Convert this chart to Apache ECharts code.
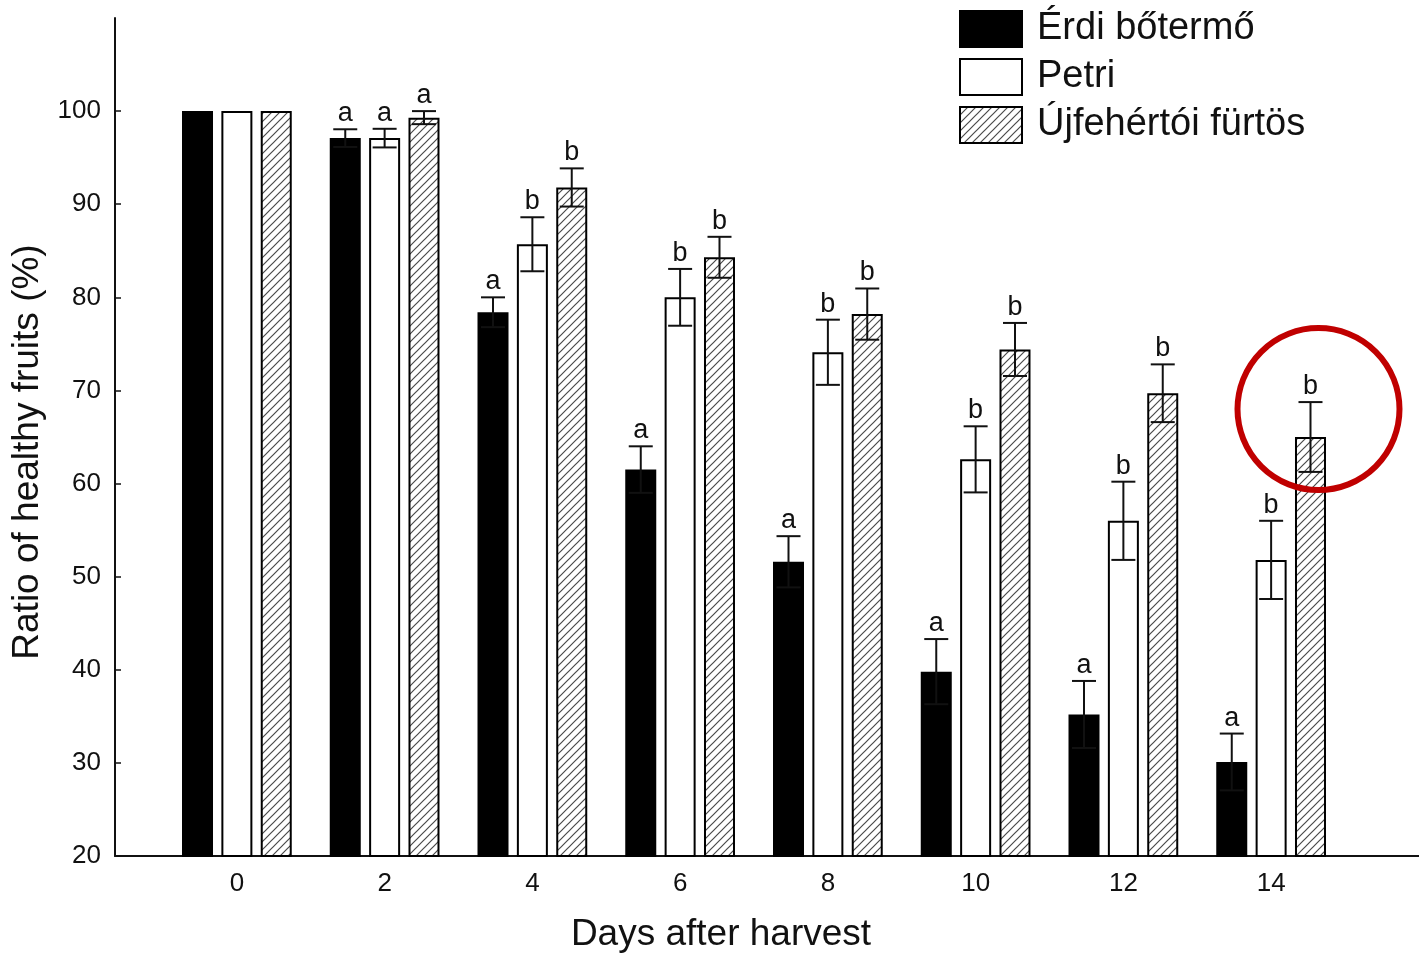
<!DOCTYPE html>
<html>
<head>
<meta charset="utf-8">
<script src="https://cdn.jsdelivr.net/npm/echarts@6/dist/echarts.min.js"></script>
<style>
  html, body { margin: 0; background: #fff; }
  #chart { width: 1419px; height: 959px; }
</style>
</head>
<body>
<div id="chart"></div>
<script>
// Ratio of healthy fruits after harvest, three cultivars
const days = ['0', '2', '4', '6', '8', '10', '12', '14'];
const yTicks = [20, 30, 40, 50, 60, 70, 80, 90, 100];
const names = ['Érdi bőtermő', 'Petri', 'Újfehértói fürtös'];

const erdi = [100, 97.1, 78.4, 61.5, 51.6, 39.8, 35.2, 30.1];
const erdiErr = [null, 0.95, 1.6, 2.5, 2.75, 3.5, 3.6, 3.05];
const erdiLetters = ['', 'a', 'a', 'a', 'a', 'a', 'a', 'a'];

const petri = [100, 97.1, 85.7, 80.0, 74.1, 62.6, 56.0, 51.8];
const petriErr = [null, 1.0, 2.9, 3.05, 3.5, 3.55, 4.2, 4.2];
const petriLetters = ['', 'a', 'b', 'b', 'b', 'b', 'b', 'b'];

const ujf = [100, 99.3, 91.8, 84.3, 78.2, 74.4, 69.7, 65.0];
const ujfErr = [null, 0.7, 2.05, 2.2, 2.75, 2.85, 3.1, 3.75];
const ujfLetters = ['', 'a', 'b', 'b', 'b', 'b', 'b', 'b'];

const FONT = '"Liberation Sans", Arial, Helvetica, sans-serif';
const INK = '#111';
const BAR_W = 31, BAR_GAP = 0.27;
const PITCH = BAR_W * (1 + BAR_GAP);

// ////-hatch fill
function hatch() {
  const c = document.createElement('canvas');
  c.width = 8; c.height = 8;
  const g = c.getContext('2d');
  g.fillStyle = '#fff'; g.fillRect(0, 0, 8, 8);
  g.strokeStyle = '#4a4a4a'; g.lineWidth = 1.2;
  g.beginPath();
  g.moveTo(-1, 9); g.lineTo(9, -1);
  g.moveTo(-1, 1); g.lineTo(1, -1);
  g.moveTo(7, 9); g.lineTo(9, 7);
  g.stroke();
  return { image: c, repeat: 'repeat' };
}

function bars(name, data, color) {
  return {
    name, type: 'bar', data, xAxisIndex: 1, yAxisIndex: 1,
    barWidth: BAR_W, barGap: (BAR_GAP * 100) + '%',
    itemStyle: { color, borderColor: '#000', borderWidth: 2 },
    emphasis: { disabled: true }, z: 2,
  };
}

function errorBars(vals, errs, letters, k) {
  return {
    type: 'custom', xAxisIndex: 1, yAxisIndex: 1, z: 5, silent: true,
    data: vals.map((v, i) => [i, v, errs[i] == null ? NaN : errs[i]]),
    renderItem(params, api) {
      const err = api.value(2);
      if (!isFinite(err)) return null;
      const i = api.value(0), v = api.value(1);
      const top = api.coord([i, v + err]);
      const bot = api.coord([i, v - err]);
      const x = top[0] + (k - 1) * PITCH;
      const cw = 12;
      const style = { stroke: INK, lineWidth: 2 };
      return {
        type: 'group', children: [
          { type: 'line', shape: { x1: x, y1: top[1], x2: x, y2: bot[1] }, style },
          { type: 'line', shape: { x1: x - cw, y1: top[1], x2: x + cw, y2: top[1] }, style },
          { type: 'line', shape: { x1: x - cw, y1: bot[1], x2: x + cw, y2: bot[1] }, style },
          { type: 'text', style: { text: letters[i], x, y: top[1] - 2, align: 'center',
              verticalAlign: 'bottom', font: '27px ' + FONT, fill: INK } },
        ],
      };
    },
  };
}

const chart = echarts.init(document.getElementById('chart'), null, { renderer: 'canvas' });

chart.setOption({
  animation: false,
  backgroundColor: '#fff',
  grid: [
    { left: 115, right: 0, top: 18, bottom: 103 },
    { left: 163, right: 74, top: 18, bottom: 103 },
  ],
  legend: {
    data: names, orient: 'vertical', left: 959, top: 10, padding: 0,
    itemWidth: 62, itemHeight: 36, itemGap: 10, icon: 'rect', selectedMode: false,
    textStyle: { fontSize: 38, color: INK, fontFamily: FONT, padding: [0, 0, 0, 10] },
  },
  xAxis: [
    {
      type: 'value', gridIndex: 0, min: 0, max: 1,
      axisLine: { onZero: false, lineStyle: { color: INK, width: 2 } },
      axisTick: { show: false }, axisLabel: { show: false }, splitLine: { show: false },
      name: 'Days after harvest', nameLocation: 'middle', nameGap: 60,
      nameTextStyle: { fontSize: 37, color: INK, fontFamily: FONT, padding: [0, 92, 0, 0] },
    },
    {
      type: 'category', gridIndex: 1, data: days,
      axisLine: { show: false },
      axisTick: { show: true, inside: true, length: 5, alignWithLabel: true,
        lineStyle: { color: INK, width: 1.5 } },
      axisLabel: { fontSize: 26, color: INK, fontFamily: FONT, margin: 15 },
      splitLine: { show: false },
    },
  ],
  yAxis: [
    {
      type: 'value', gridIndex: 0, min: 20, max: 110, interval: 10,
      axisLine: { show: true, onZero: false, lineStyle: { color: INK, width: 2 } },
      axisTick: { show: true, inside: true, length: 6, customValues: yTicks,
        lineStyle: { color: INK, width: 1.5 } },
      axisLabel: { fontSize: 26, color: INK, fontFamily: FONT, margin: 14, customValues: yTicks },
      splitLine: { show: false },
      name: 'Ratio of healthy fruits (%)', nameLocation: 'middle', nameGap: 62,
      nameTextStyle: { fontSize: 37, color: INK, fontFamily: FONT, padding: [0, 30, 0, 0] },
    },
    {
      type: 'value', gridIndex: 1, min: 20, max: 110, show: false,
      splitLine: { show: false },
    },
  ],
  series: [
    bars(names[0], erdi, '#000'),
    bars(names[1], petri, '#fff'),
    bars(names[2], ujf, hatch()),
    errorBars(erdi, erdiErr, erdiLetters, 0),
    errorBars(petri, petriErr, petriLetters, 1),
    errorBars(ujf, ujfErr, ujfLetters, 2),
  ],
});

// red highlight ring around the last Újfehértói fürtös bar
const ring = chart.convertToPixel({ xAxisIndex: 1, yAxisIndex: 1 }, [7, 68]);
chart.setOption({
  graphic: [{
    type: 'circle', silent: true, z: 10,
    shape: { cx: ring[0] + PITCH + 8, cy: ring[1], r: 81 },
    style: { fill: 'none', stroke: '#c00000', lineWidth: 6 },
  }],
});
</script>
</body>
</html>
